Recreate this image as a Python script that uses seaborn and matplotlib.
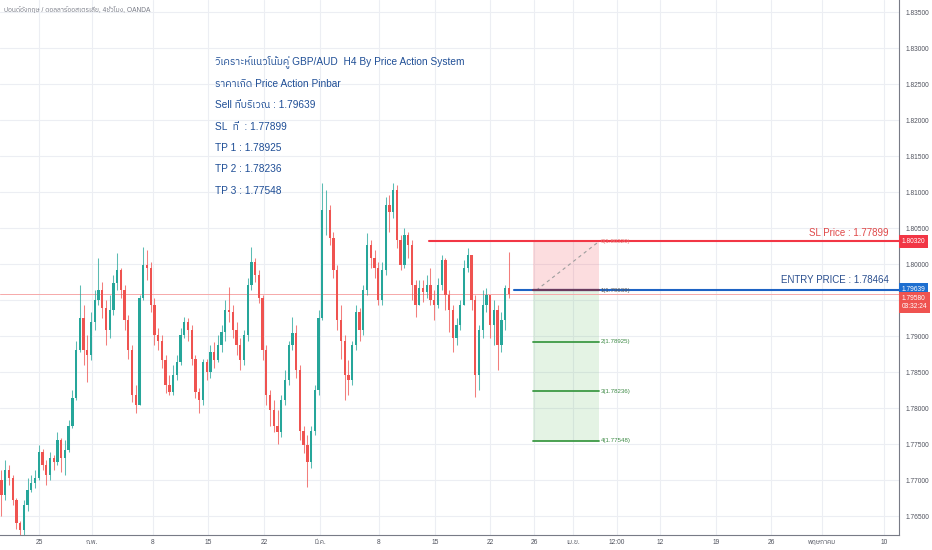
import matplotlib
matplotlib.use("Agg")
import matplotlib.pyplot as plt
import matplotlib.transforms as mtransforms
from matplotlib import font_manager as fm
import seaborn as sns
import numpy as np

# ---------------- data (GBP/AUD, 8h candles) ----------------
first_open = 1.7700
close = [1.7679, 1.7714, 1.7703, 1.7672, 1.7640, 1.7631, 1.7665, 1.7686, 1.7696, 1.7703,
         1.7739, 1.7721, 1.7707, 1.7731, 1.7725, 1.7756, 1.7731, 1.7742, 1.7776, 1.7814,
         1.7881, 1.7925, 1.7881, 1.7874, 1.7919, 1.7950, 1.7964, 1.7939, 1.7908, 1.7936,
         1.7974, 1.7992, 1.7964, 1.7922, 1.7881, 1.7818, 1.7804, 1.7953, 1.7999, 1.7994,
         1.7943, 1.7901, 1.7894, 1.7867, 1.7832, 1.7822, 1.7846, 1.7864, 1.7901, 1.7919,
         1.7908, 1.7869, 1.7822, 1.7811, 1.7864, 1.7850, 1.7878, 1.7867, 1.7888, 1.7906,
         1.7936, 1.7933, 1.7908, 1.7888, 1.7867, 1.7901, 1.7971, 1.8003, 1.7985, 1.7953,
         1.7881, 1.7818, 1.7797, 1.7776, 1.7767, 1.7811, 1.7839, 1.7888, 1.7904, 1.7853,
         1.7769, 1.7749, 1.7725, 1.7769, 1.7825, 1.7925, 1.8075, 1.8075, 1.8036, 1.7992,
         1.7922, 1.7894, 1.7846, 1.7839, 1.7888, 1.7933, 1.7908, 1.7964, 1.8026, 1.8008,
         1.7994, 1.7950, 1.7992, 1.8082, 1.8072, 1.8103, 1.8033, 1.7999, 1.8040, 1.8026,
         1.7971, 1.7943, 1.7967, 1.7961, 1.7971, 1.7950, 1.7943, 1.7971, 1.8006, 1.7957,
         1.7936, 1.7897, 1.7915, 1.7943, 1.7994, 1.8013, 1.7950, 1.7846, 1.7908, 1.7943,
         1.7957, 1.7915, 1.7936, 1.7888, 1.7922, 1.7967, 1.7958]
high = [1.7714, 1.7728, 1.7721, 1.7707, 1.7675, 1.7644, 1.7672, 1.7703, 1.7707, 1.7714,
        1.7749, 1.7744, 1.7728, 1.7739, 1.7735, 1.7767, 1.7758, 1.7756, 1.7783, 1.7825,
        1.7894, 1.7971, 1.7943, 1.7901, 1.7933, 1.7964, 1.8008, 1.7975, 1.7950, 1.7957,
        1.7985, 1.8015, 1.7994, 1.7971, 1.7929, 1.7888, 1.7832, 1.7957, 1.8024, 1.8019,
        1.8003, 1.7953, 1.7911, 1.7901, 1.7874, 1.7846, 1.7860, 1.7874, 1.7911, 1.7926,
        1.7925, 1.7915, 1.7874, 1.7828, 1.7869, 1.7869, 1.7888, 1.7892, 1.7901, 1.7915,
        1.7950, 1.7968, 1.7943, 1.7919, 1.7897, 1.7908, 1.7981, 1.8024, 1.8008, 1.7992,
        1.7957, 1.7888, 1.7825, 1.7811, 1.7797, 1.7818, 1.7853, 1.7894, 1.7926, 1.7915,
        1.7860, 1.7776, 1.7763, 1.7776, 1.7832, 1.7936, 1.8112, 1.8103, 1.8082, 1.8044,
        1.7999, 1.7943, 1.7901, 1.7867, 1.7894, 1.7943, 1.7939, 1.7971, 1.8043, 1.8033,
        1.8019, 1.8003, 1.8003, 1.8093, 1.8096, 1.8112, 1.8110, 1.8040, 1.8050, 1.8044,
        1.8033, 1.7978, 1.7978, 1.7978, 1.7985, 1.7994, 1.7964, 1.7981, 1.8013, 1.8008,
        1.7964, 1.7943, 1.7925, 1.7950, 1.8006, 1.8022, 1.8013, 1.7957, 1.7915, 1.7964,
        1.7967, 1.7957, 1.7950, 1.7943, 1.7933, 1.7971, 1.8017]
low = [1.7651, 1.7672, 1.7693, 1.7665, 1.7633, 1.7622, 1.7624, 1.7658, 1.7683, 1.7689,
       1.7700, 1.7714, 1.7693, 1.7700, 1.7714, 1.7721, 1.7711, 1.7707, 1.7739, 1.7772,
       1.7811, 1.7878, 1.7860, 1.7836, 1.7867, 1.7908, 1.7943, 1.7925, 1.7888, 1.7897,
       1.7929, 1.7964, 1.7953, 1.7908, 1.7869, 1.7808, 1.7793, 1.7804, 1.7950, 1.7978,
       1.7933, 1.7888, 1.7881, 1.7856, 1.7821, 1.7818, 1.7818, 1.7839, 1.7860, 1.7897,
       1.7894, 1.7860, 1.7814, 1.7793, 1.7804, 1.7839, 1.7842, 1.7856, 1.7864, 1.7878,
       1.7894, 1.7919, 1.7897, 1.7874, 1.7853, 1.7860, 1.7894, 1.7964, 1.7975, 1.7946,
       1.7867, 1.7804, 1.7776, 1.7767, 1.7751, 1.7760, 1.7804, 1.7832, 1.7881, 1.7842,
       1.7756, 1.7738, 1.7690, 1.7717, 1.7763, 1.7818, 1.7922, 1.8040, 1.8026, 1.7981,
       1.7908, 1.7869, 1.7811, 1.7818, 1.7832, 1.7881, 1.7894, 1.7901, 1.7957, 1.7994,
       1.7981, 1.7943, 1.7943, 1.7985, 1.8044, 1.8064, 1.8022, 1.7992, 1.7994, 1.8008,
       1.7950, 1.7926, 1.7950, 1.7947, 1.7953, 1.7943, 1.7922, 1.7939, 1.7964, 1.7936,
       1.7906, 1.7878, 1.7888, 1.7908, 1.7943, 1.7989, 1.7936, 1.7815, 1.7825, 1.7897,
       1.7933, 1.7897, 1.7888, 1.7853, 1.7878, 1.7908, 1.7953]

tick_labels = ["25", "ก.พ.", "8", "15", "22", "มี.ค.", "8", "15", "22", "26", "เม.ย.",
               "12:00", "12", "19", "26", "พฤษภาคม", "10"]
tick_pos = [10.1, 24.3, 40.6, 55.4, 70.4, 85.4, 101.2, 116.2, 131.0, 142.8, 153.2,
            165.0, 176.5, 191.6, 206.3, 220.0, 236.6]
price_ticks = [1.765, 1.770, 1.775, 1.780, 1.785, 1.790, 1.795, 1.800, 1.805, 1.810,
               1.815, 1.820, 1.825, 1.830, 1.835]

sl_price = 1.80320
entry_price = 1.79639
last_price = 1.79580
fib_values = [1.80320, 1.79639, 1.78925, 1.78236, 1.77548]

note_lines = ["วิเคราะห์แนวโน้มคู่ GBP/AUD  H4 By Price Action System",
              "ราคาเกิด Price Action Pinbar",
              "Sell ที่บริเวณ : 1.79639",
              "SL  ที่  : 1.77899",
              "TP 1 : 1.78925",
              "TP 2 : 1.78236",
              "TP 3 : 1.77548"]
note_prices = [1.82806, 1.82500, 1.82208, 1.81903, 1.81611, 1.81319, 1.81014]

# ---------------- fonts ----------------
sns.set_style("white")


def find_family(cp):
    try:
        from fontTools.ttLib import TTFont
    except Exception:
        return None
    entries = sorted(fm.fontManager.ttflist, key=lambda f: (0 if "Sans" in f.name else 1, f.name))
    for f in entries:
        try:
            tt = TTFont(f.fname, fontNumber=0, lazy=True)
            cmap = tt.getBestCmap()
            if cmap and cp in cmap:
                return f.name
        except Exception:
            continue
    return None


names = {f.name for f in fm.fontManager.ttflist}
narrow_ok = "Liberation Sans Narrow" in names
base = "Liberation Sans Narrow" if narrow_ok else "Liberation Sans"
scale = 1.0 if narrow_ok else 0.88
thai = find_family(0x0E01)
fam = [base] + ([thai] if thai else []) + ["DejaVu Sans"]
plt.rcParams["font.family"] = fam

# ---------------- figure ----------------
W, H = 932, 550
fig = plt.figure(figsize=(W / 100, H / 100), dpi=100)
ax = fig.add_axes([0, 15 / H, 899 / W, 535 / H])

n = len(close)
idx = np.arange(n)
c = np.array(close)
o = np.array([first_open] + close[:-1])
hi = np.maximum(np.array(high), np.maximum(o, c))
lo = np.minimum(np.array(low), np.minimum(o, c))
up = c >= o
UP, DN = "#26a69a", "#ef5350"
cols = np.where(up, UP, DN)

ax.vlines(idx, lo, hi, colors=cols, linewidth=0.75, alpha=0.75, zorder=3)
body_h = np.maximum(np.abs(c - o), 0.00008)
ax.bar(idx, body_h, bottom=np.minimum(o, c), width=0.62, color=cols, linewidth=0, zorder=4)

# current price line
ax.axhline(last_price, color="#f6a9a9", lw=0.7, zorder=2)

# risk/reward box
bx0, bx1 = 142.6, 160.3
ax.fill_between([bx0, bx1], entry_price, sl_price, color="#f23645", alpha=0.17, lw=0, zorder=1)
ax.fill_between([bx0, bx1], fib_values[-1], entry_price, color="#4caf50", alpha=0.15, lw=0, zorder=1)
ax.plot([bx0 + 0.8, bx1], [entry_price, sl_price], ls=(0, (3, 3)), color="#9e9e9e", lw=0.8, zorder=5)

# SL and entry lines
ax.plot([114.5, 241], [sl_price, sl_price], color="#f23645", lw=1.5, zorder=6)
ax.plot([137.5, 241], [entry_price, entry_price], color="#1e63c4", lw=1.5, zorder=6)

fib_colors = ["#f23645", "#6b3b5e", "#3d9a45", "#3d9a45", "#3d9a45"]
fib_text_colors = ["#e57373", "#555555", "#3d8a45", "#3d8a45", "#3d8a45"]
for k, (v, fc, tc) in enumerate(zip(fib_values, fib_colors, fib_text_colors)):
    if k > 0:
        ax.plot([bx0, bx1], [v, v], color=fc, lw=1.3 if k > 1 else 1.6, zorder=6)
    ax.text(bx1 + 0.4, v, f"{k}({v:.5f})", fontsize=4.6 * scale / 0.92, color=tc,
            va="center", ha="left", zorder=7)

ax.text(237.9, 1.80431, "SL Price : 1.77899", color="#e04848", fontsize=8.0 * scale,
        ha="right", va="center", zorder=7)
ax.text(237.9, 1.79778, "ENTRY PRICE : 1.78464", color="#2a4f8f", fontsize=8.0 * scale,
        ha="right", va="center", zorder=7)

for line, p in zip(note_lines, note_prices):
    ax.text(57.2, p, line, color="#1f4e96", fontsize=8.3 * scale, ha="left", va="center", zorder=7)

# axes
ax.set_xlim(-0.4, 240.6)
ax.set_ylim(1.7624, 1.83667)
ax.set_xticks(tick_pos)
ax.set_xticklabels(tick_labels)
ax.yaxis.tick_right()
ax.set_yticks(price_ticks)
ax.set_yticklabels(["" if abs(t - 1.795) < 1e-9 else f"{t:.5f}" for t in price_ticks])
ax.tick_params(axis="y", direction="out", length=3, width=0.6, colors="#9598a1",
               labelcolor="#50535e", labelsize=4.8, pad=2)
ax.tick_params(axis="x", length=0, labelcolor="#50535e", labelsize=4.8, pad=3)
ax.grid(True, color="#eceef3", lw=0.8, zorder=0)
ax.set_axisbelow(True)
sns.despine(ax=ax, left=True, top=True, right=False, bottom=False)
for s in ("right", "bottom"):
    ax.spines[s].set_color("#787b86")
    ax.spines[s].set_linewidth(0.8)

# price labels on the axis
blend = mtransforms.blended_transform_factory(ax.transAxes, ax.transData)
box = dict(boxstyle="square,pad=0.45", ec="none")
ax.text(1.003, sl_price, "1.80320", transform=blend, fontsize=4.8, color="white",
        ha="left", va="center", zorder=10, clip_on=False, bbox=dict(box, fc="#f23645"))
ax.text(1.003, entry_price + 0.0001, "1.79639", transform=blend, fontsize=4.8, color="white",
        ha="left", va="center", zorder=10, clip_on=False, bbox=dict(box, fc="#1e6fd0"))
ax.text(1.003, last_price - 0.0011, "1.79580\n03:32:24", transform=blend, fontsize=4.8,
        color="white", ha="left", va="center", zorder=10, clip_on=False, linespacing=1.2,
        bbox=dict(box, fc="#ef5350"))

fig.text(4 / W, 1 - 10 / H, "ปอนด์อังกฤษ / ดอลลาร์ออสเตรเลีย, 4ชั่วโมง, OANDA",
         fontsize=4.8, color="#787b86", ha="left", va="center")

fig.savefig("out.png", dpi=100, facecolor="white")
